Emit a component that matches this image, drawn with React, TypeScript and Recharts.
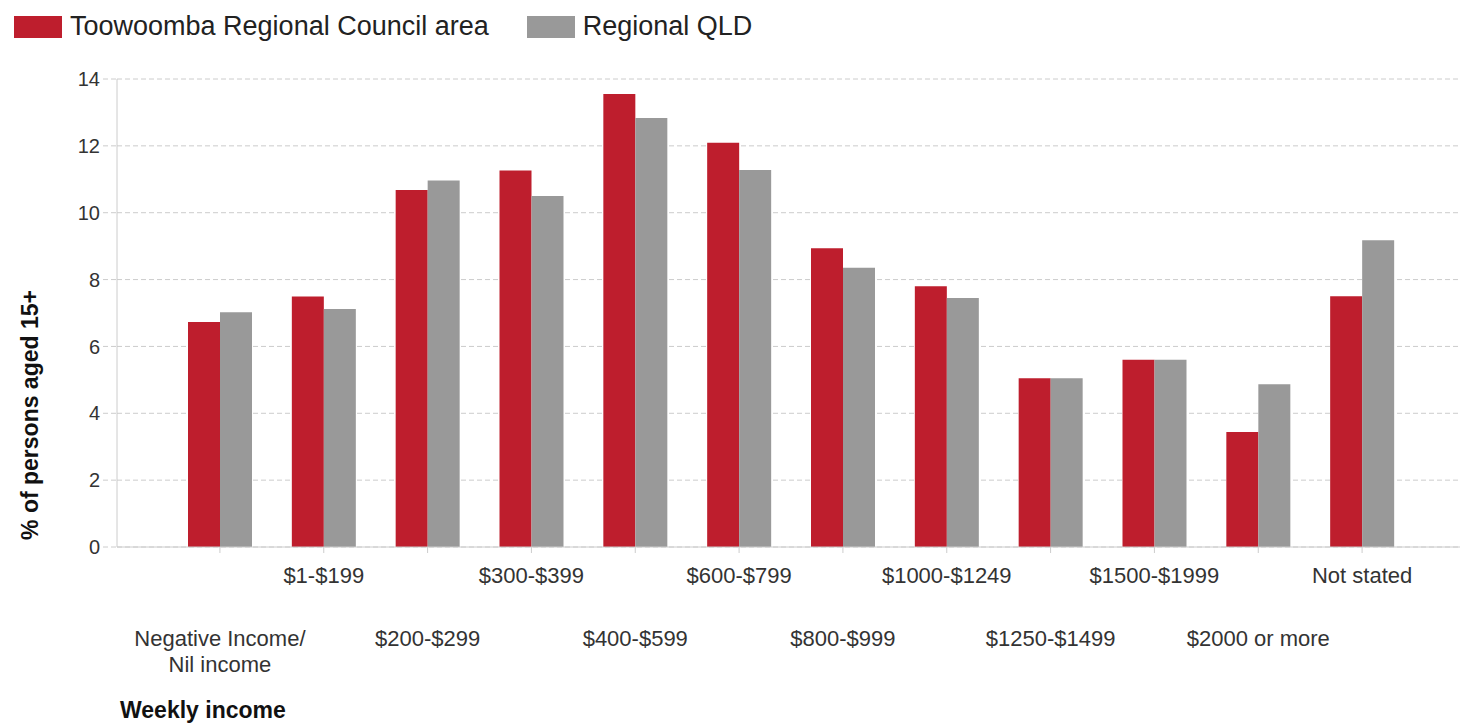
import React from 'react';
import { BarChart, Bar, XAxis, YAxis, CartesianGrid } from 'recharts';

const categories = [
  'Negative Income/\nNil income',
  '$1-$199',
  '$200-$299',
  '$300-$399',
  '$400-$599',
  '$600-$799',
  '$800-$999',
  '$1000-$1249',
  '$1250-$1499',
  '$1500-$1999',
  '$2000 or more',
  'Not stated',
];

const toowoomba = [6.73, 7.49, 10.68, 11.26, 13.55, 12.09, 8.94, 7.8, 5.05, 5.6, 3.44, 7.5];
const regionalQld = [7.02, 7.12, 10.96, 10.5, 12.83, 11.28, 8.35, 7.45, 5.05, 5.6, 4.87, 9.18];

const seriesNames = ['Toowoomba Regional Council area', 'Regional QLD'];
const seriesColors = ['#be1e2d', '#999999'];
const yTicks = [0, 2, 4, 6, 8, 10, 12, 14];

const data = categories.map((name, i) => ({
  name,
  toowoomba: toowoomba[i],
  regional: regionalQld[i],
}));

const FONT = '"Liberation Sans", Arial, sans-serif';

// staggered two-row tick labels like the original
const IncomeTick = (props: any) => {
  const { x, y, payload } = props;
  const idx = categories.indexOf(payload.value);
  const lines = String(payload.value).split('\n');
  const base = idx % 2 === 1 ? y + 28 : y + 91;
  return (
    <text x={x} y={base} textAnchor="middle" fill="#333" fontSize={22} fontFamily={FONT}>
      {lines.map((l, i) => (
        <tspan key={i} x={x} dy={i === 0 ? 0 : 26}>{l}</tspan>
      ))}
    </text>
  );
};

export default function App() {
  return (
    <div style={{ position: 'absolute', left: 0, top: 0, width: 1460, height: 726, background: '#fff', fontFamily: FONT }}>
      {/* legend */}
      <div style={{ position: 'absolute', left: 14, top: 11, display: 'flex', alignItems: 'center', fontSize: 27, color: '#222' }}>
        {seriesNames.map((n, i) => (
          <div key={n} style={{ display: 'flex', alignItems: 'center', marginRight: 38 }}>
            <div style={{ width: 48, height: 22, background: seriesColors[i], marginRight: 8 }} />
            <span>{n}</span>
          </div>
        ))}
      </div>

      <BarChart
        width={1460}
        height={726}
        data={data}
        margin={{ top: 79, right: 0, left: 0, bottom: 0 }}
        barGap={0}
        barCategoryGap={20}
      >
        <CartesianGrid vertical={false} stroke="#cccccc" strokeDasharray="5 3" />
        <XAxis
          dataKey="name"
          height={179}
          interval={0}
          padding={{ left: 51, right: 46 }}
          stroke="#cccccc"
          tickSize={6}
          tick={<IncomeTick />}
          label={() => (
            <text x={120} y={718} fontSize={23} fontWeight="bold" fill="#111" fontFamily={FONT}>
              Weekly income
            </text>
          )}
        />
        <YAxis
          width={117}
          domain={[0, 14]}
          ticks={yTicks}
          interval={0}
          stroke="#cccccc"
          tickSize={14}
          tickMargin={3}
          tickLine={{ stroke: '#cccccc', strokeDasharray: '5 3' }}
          tick={{ fill: '#333', fontSize: 20, fontFamily: FONT }}
          label={() => (
            <text
              x={38}
              y={415}
              transform="rotate(-90 38 415)"
              textAnchor="middle"
              fontSize={23}
              fontWeight="bold"
              fill="#111"
              fontFamily={FONT}
            >
              % of persons aged 15+
            </text>
          )}
        />
        <Bar dataKey="toowoomba" name={seriesNames[0]} fill={seriesColors[0]} isAnimationActive={false} />
        <Bar dataKey="regional" name={seriesNames[1]} fill={seriesColors[1]} isAnimationActive={false} />
      </BarChart>
    </div>
  );
}
